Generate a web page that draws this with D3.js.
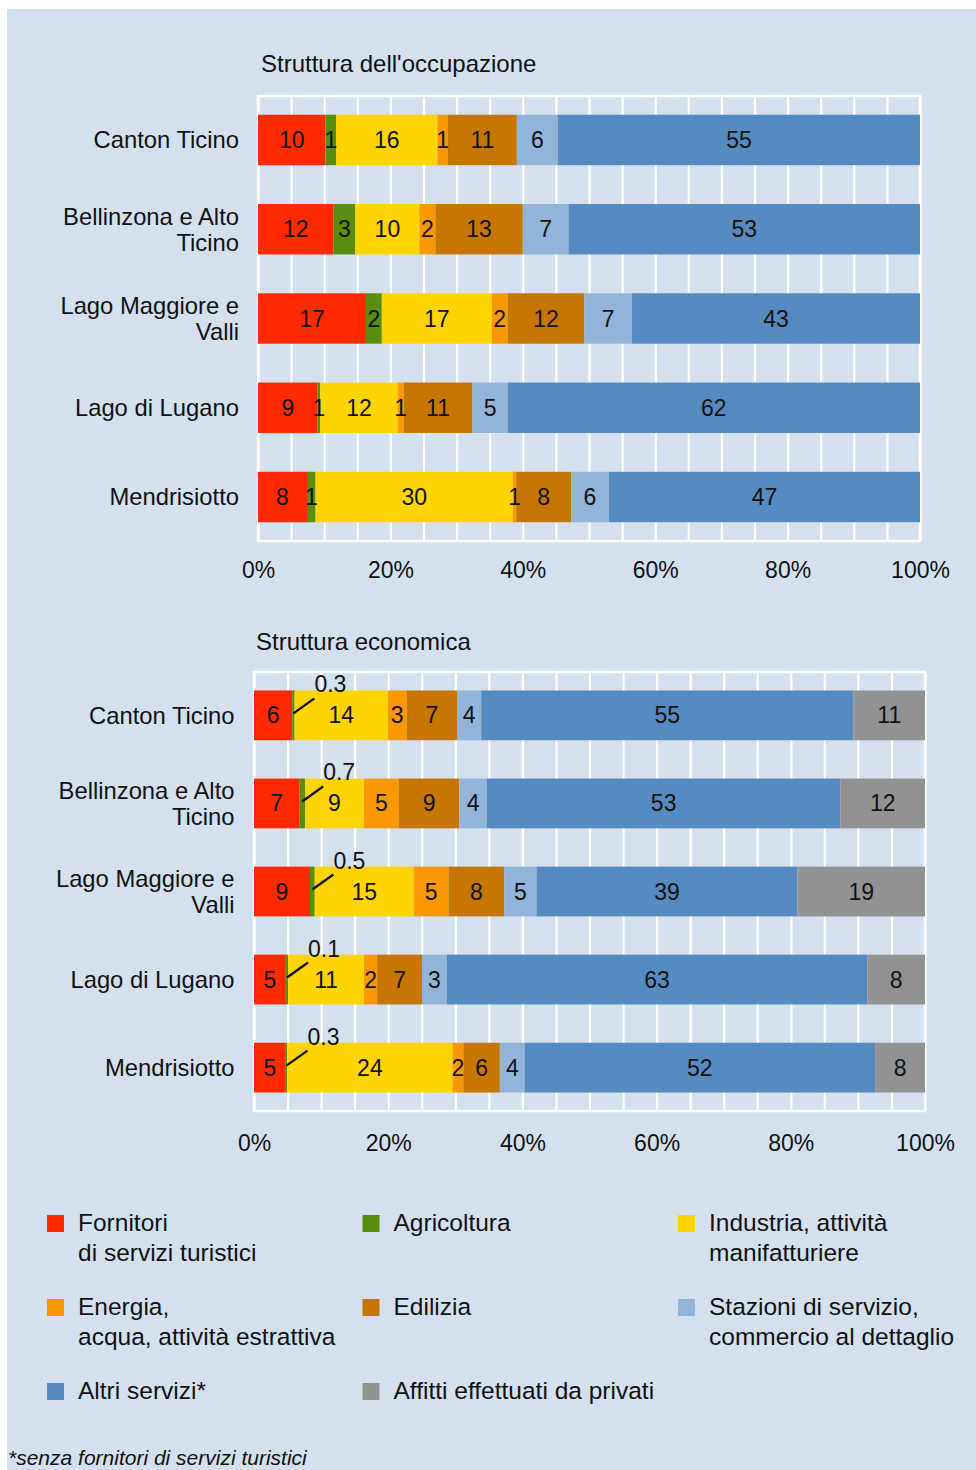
<!DOCTYPE html>
<html><head><meta charset="utf-8">
<script src="https://cdn.jsdelivr.net/npm/d3@7"></script>
<style>
body{margin:0;background:#fff}
svg{display:block}
text{font-family:"Liberation Sans",Arial,Helvetica,sans-serif;fill:#111}
</style>
</head><body>
<svg id="c" width="976" height="1470"></svg>
<script>
// ---------- DATA ----------
const regions = [["Canton Ticino"], ["Bellinzona e Alto", "Ticino"], ["Lago Maggiore e", "Valli"], ["Lago di Lugano"], ["Mendrisiotto"]];
const sectors = ["Fornitori di servizi turistici", "Agricoltura", "Industria, attività manifatturiere",
  "Energia, acqua, attività estrattiva", "Edilizia", "Stazioni di servizio, commercio al dettaglio",
  "Altri servizi*", "Affitti effettuati da privati"];
const sectorColors = ["#ff2a00", "#5a8c0d", "#ffd400", "#f99800", "#c77700", "#92b4d8", "#568bc1", "#929292"];
const legendLines = [["Fornitori", "di servizi turistici"], ["Agricoltura"], ["Industria, attività", "manifatturiere"],
  ["Energia,", "acqua, attività estrattiva"], ["Edilizia"], ["Stazioni di servizio,", "commercio al dettaglio"],
  ["Altri servizi*"], ["Affitti effettuati da privati"]];

// Struttura dell'occupazione (7 sectors, no "Affitti")
const occTitle = "Struttura dell'occupazione";
const occValues = [
  [10.2, 1.6, 15.3, 1.6, 10.4, 6.2, 54.7],
  [11.4, 3.3, 9.7, 2.4, 13.2, 6.9, 53.1],
  [16.3, 2.4, 16.6, 2.4, 11.6, 7.2, 43.5],
  [9.0, 0.4, 11.7, 0.9, 10.4, 5.3, 62.3],
  [7.4, 1.3, 29.8, 0.5, 8.3, 5.7, 47.0]
];
const occLabels = [
  ["10", "1", "16", "1", "11", "6", "55"],
  ["12", "3", "10", "2", "13", "7", "53"],
  ["17", "2", "17", "2", "12", "7", "43"],
  ["9", "1", "12", "1", "11", "5", "62"],
  ["8", "1", "30", "1", "8", "6", "47"]
];

// Struttura economica (8 sectors)
const ecoTitle = "Struttura economica";
const ecoValues = [
  [5.7, 0.35, 13.9, 2.8, 7.5, 3.6, 55.5, 10.65],
  [6.75, 0.85, 8.8, 5.2, 9.0, 4.1, 52.7, 12.6],
  [8.35, 0.7, 14.75, 5.2, 8.3, 4.8, 38.9, 19.0],
  [4.75, 0.35, 11.3, 1.95, 6.7, 3.7, 62.7, 8.6],
  [4.75, 0.2, 24.7, 1.6, 5.45, 3.7, 52.3, 7.45]
];
const ecoLabels = [
  ["6", "0.3", "14", "3", "7", "4", "55", "11"],
  ["7", "0.7", "9", "5", "9", "4", "53", "12"],
  ["9", "0.5", "15", "5", "8", "5", "39", "19"],
  ["5", "0.1", "11", "2", "7", "3", "63", "8"],
  ["5", "0.3", "24", "2", "6", "4", "52", "8"]
];
const calloutSector = 1; // Agricoltura labels in the economic chart use leader lines

const axisTicks = [0, 20, 40, 60, 80, 100];
const gridTicks = d3.range(0, 101, 5);
const footnote = "*senza fornitori di servizi turistici";

// ---------- DRAWING ----------
const svg = d3.select("#c");
svg.append("rect").attr("x", 7).attr("y", 9).attr("width", 976 - 7).attr("height", 1470 - 9).attr("fill", "#d5e0ee");

function drawChart(cfg) {
  const {title, values, labels, left, right, top, bottom, labelRight, titleX, titleY, callout, tickPad} = cfg;
  const g = svg.append("g");
  const x = d3.scaleLinear().domain([0, 100]).range([left, right]);
  const y = d3.scaleBand().domain(d3.range(regions.length)).range([top, bottom]).paddingInner(0.435).paddingOuter(0.21);

  // title
  g.append("text").attr("x", titleX).attr("y", titleY).attr("font-size", 24).text(title);

  // grid
  const grid = g.append("g").attr("transform", `translate(0,${bottom})`)
    .call(d3.axisBottom(x).tickValues(gridTicks).tickSize(-(bottom - top)).tickFormat(""));
  grid.select(".domain").remove();
  grid.selectAll("line").attr("stroke", "#fff").attr("stroke-width", 2.2);
  g.append("rect").attr("x", left).attr("y", top).attr("width", right - left).attr("height", bottom - top)
    .attr("fill", "none").attr("stroke", "#fff").attr("stroke-width", 2.5);

  // tick labels
  const ax = g.append("g").attr("transform", `translate(0,${bottom})`)
    .call(d3.axisBottom(x).tickValues(axisTicks).tickSize(0).tickPadding(tickPad).tickFormat(d => d + "%"));
  ax.select(".domain").remove();
  ax.selectAll("text").attr("font-size", 23).attr("font-family", '"Liberation Sans",Arial,sans-serif').attr("fill", "#111");

  // category labels
  regions.forEach((lines, i) => {
    const cy = y(i) + y.bandwidth() / 2;
    const t = g.append("text").attr("text-anchor", "end").attr("font-size", 23.8);
    lines.forEach((ln, j) => {
      t.append("tspan").attr("x", labelRight)
        .attr("y", cy + (j - (lines.length - 1) / 2) * 26)
        .attr("dy", "0.35em").text(ln);
    });
  });

  // bars
  values.forEach((row, i) => {
    const total = d3.sum(row);
    const cum = d3.cumsum(row.map(v => v / total * 100));
    const by = y(i);
    const cy = by + y.bandwidth() / 2;
    row.forEach((v, k) => {
      const x0 = x(k === 0 ? 0 : cum[k - 1]);
      const x1 = x(cum[k]);
      g.append("rect").attr("x", x0).attr("y", by).attr("width", Math.max(0, x1 - x0)).attr("height", y.bandwidth())
        .attr("fill", sectorColors[k]);
    });
    row.forEach((v, k) => {
      const x0 = x(k === 0 ? 0 : cum[k - 1]);
      const x1 = x(cum[k]);
      const mx = (x0 + x1) / 2;
      if (callout && k === calloutSector) {
        const lx0 = mx, ly0 = cy - 2, lx1 = mx + 21, ly1 = cy - 17;
        g.append("line").attr("x1", lx0).attr("y1", ly0).attr("x2", lx1).attr("y2", ly1)
          .attr("stroke", "#111").attr("stroke-width", 2.4);
        g.append("text").attr("x", lx1).attr("y", ly1 - 14).attr("dy", "0.35em")
          .attr("font-size", 23).text(labels[i][k]);
      } else {
        g.append("text").attr("x", mx).attr("y", cy).attr("dy", "0.35em").attr("text-anchor", "middle")
          .attr("font-size", 23).text(labels[i][k]);
      }
    });
  });
}

drawChart({title: occTitle, values: occValues, labels: occLabels, left: 258, right: 920, top: 96, bottom: 541,
  labelRight: 239, titleX: 261, titleY: 71.5, callout: false, tickPad: 21});
drawChart({title: ecoTitle, values: ecoValues, labels: ecoLabels, left: 254, right: 925, top: 672, bottom: 1111,
  labelRight: 234.5, titleX: 256, titleY: 649.5, callout: true, tickPad: 24});

// legend
const leg = svg.append("g");
legendLines.forEach((lines, i) => {
  const col = i % 3, row = Math.floor(i / 3);
  const sx = 47 + col * 315.5, tx = 78 + col * 315.5;
  const base = 1231 + row * 84;
  leg.append("rect").attr("x", sx).attr("y", base - 16).attr("width", 17).attr("height", 17).attr("fill", sectorColors[i]);
  const t = leg.append("text").attr("font-size", 24.5);
  lines.forEach((ln, j) => t.append("tspan").attr("x", tx).attr("y", base + j * 29.5).text(ln));
});

svg.append("text").attr("x", 8).attr("y", 1465).attr("font-size", 21).attr("font-style", "italic").text(footnote);
</script>
</body></html>
